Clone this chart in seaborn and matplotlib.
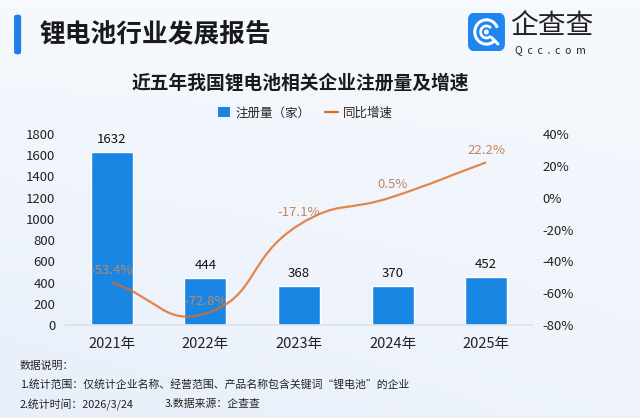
import numpy as np
import matplotlib
matplotlib.use('Agg')
import matplotlib.pyplot as plt
import seaborn as sns
from matplotlib.path import Path
from matplotlib.patches import PathPatch, FancyBboxPatch, Arc, Patch
from matplotlib.lines import Line2D

sns.set_theme(style='white')
plt.rcParams['font.family'] = ['Noto Sans CJK SC', 'DejaVu Sans']

# data
years = ['2021年', '2022年', '2023年', '2024年', '2025年']
counts = [1632, 444, 368, 370, 452]
growth = [-53.4, -72.8, -17.1, 0.5, 22.2]
left_ticks = [0, 200, 400, 600, 800, 1000, 1200, 1400, 1600, 1800]
right_ticks = [-80, -60, -40, -20, 0, 20, 40]

BAR = '#1a86e4'
LINE = '#e2691f'
LBL = '#c0875f'

fig = plt.figure(figsize=(6.4, 4.18), dpi=100)

# soft background
bg = fig.add_axes([0, 0, 1, 1], zorder=-10)
gx = np.linspace(0, 1, 200)
gy = np.linspace(0, 1, 130)
GX, GY = np.meshgrid(gx, gy)
c0 = np.array([246, 249, 253]) / 255
c1 = np.array([232, 239, 250]) / 255
w = np.clip(0.55 * GY + 0.45 * (1 - GX) * GY, 0, 1)[..., None]
bg.imshow(c0 * (1 - w) + c1 * w, aspect='auto', extent=[0, 1, 0, 1], origin='upper')
bg.axis('off')

ax = fig.add_axes([0.1016, 0.2225, 0.7312, 0.4569])
ax.patch.set_alpha(0)
df_x = np.arange(len(years))
sns.barplot(x=df_x, y=counts, color=BAR, width=0.45, saturation=1, ax=ax, native_scale=True)
ax.set_xlim(-0.5, 4.5)
ax.set_ylim(0, 1800)
ax.set_yticks(left_ticks)
ax.set_xticks(df_x)
ax.set_xticklabels(years, fontsize=10.5, color='#222222')
ax.tick_params(axis='y', labelsize=9.5, colors='#222222', length=0, pad=7)
ax.tick_params(axis='x', length=0, pad=9)
for s in ['top', 'right', 'left']:
    ax.spines[s].set_visible(False)
ax.spines['bottom'].set_color('#dde3ea')
ax.set_xlabel('')
ax.set_ylabel('')
for i, v in enumerate(counts):
    ax.annotate(str(v), (i, v), xytext=(0, 4), textcoords='offset points',
                ha='center', va='bottom', fontsize=9.5, color='#111111')

ax2 = ax.twinx()
ax2.set_ylim(-80, 40)
ax2.set_yticks(right_ticks)
ax2.set_yticklabels([f'{t}%' for t in right_ticks])
ax2.tick_params(axis='y', labelsize=9.5, colors='#222222', length=0, pad=7)
for s in ax2.spines.values():
    s.set_visible(False)

# echarts style smooth curve (smooth=0.5) through the growth points
sx, sy = 93.5, 190 / 120.0
P = np.array([[x * sx, g * sy] for x, g in zip(df_x, growth)])
n = len(P)
cps_in, cps_out = [None] * n, [None] * n
for i in range(n):
    prev = P[max(i - 1, 0)]
    nxt = P[min(i + 1, n - 1)]
    v = nxt - prev
    d0 = np.hypot(*(P[i] - prev))
    d1 = np.hypot(*(nxt - P[i]))
    r = d1 / (d0 + d1)
    cps_out[i] = P[i] + v * 0.5 * r
    cps_in[i] = P[i] - v * 0.5 * (1 - r)
verts = [P[0]]
codes = [Path.MOVETO]
for i in range(n - 1):
    verts += [cps_out[i], cps_in[i + 1], P[i + 1]]
    codes += [Path.CURVE4] * 3
verts = np.array(verts) / np.array([sx, sy])
ax2.add_patch(PathPatch(Path(verts, codes), fill=False, edgecolor=LINE, lw=1.6, alpha=0.8, zorder=3))
for i, g in enumerate(growth):
    ax2.annotate(f'{g}%', (i, g), xytext=(0, 4), textcoords='offset points',
                 ha='center', va='bottom', fontsize=9.5, color=LBL, zorder=4)

# titles
fig.text(0.469, 0.801, '近五年我国锂电池相关企业注册量及增速', ha='center', va='center',
         fontsize=13.5, fontweight='bold', color='#1a1a1a')
handles = [Patch(facecolor=BAR, edgecolor='none'), Line2D([], [], color=LINE, lw=1.6)]
fig.legend(handles, ['注册量（家）', '同比增速'], loc='center', bbox_to_anchor=(0.477, 0.73),
           ncol=2, frameon=False, fontsize=9, handlelength=1.0, handleheight=0.9,
           columnspacing=1.2, handletextpad=0.4)

fig.patches.append(FancyBboxPatch((0.022, 0.87), 0.011, 0.095, boxstyle='round,pad=0,rounding_size=0.005',
                                  transform=fig.transFigure, facecolor='#1f7fe8', edgecolor='none'))
fig.text(0.062, 0.918, '锂电池行业发展报告', ha='left', va='center', fontsize=18.5,
         fontweight='bold', color='#1a1a1a')

# logo
lax = fig.add_axes([0.731, 0.877, 0.058, 0.093], zorder=5)
lax.set_xlim(-1, 1)
lax.set_ylim(-1, 1)
lax.axis('off')
lax.add_patch(FancyBboxPatch((-1, -1), 2, 2, boxstyle='round,pad=0,rounding_size=0.4',
                             facecolor='#1f86f0', edgecolor='none'))
lax.add_patch(Arc((0, 0), 1.25, 1.25, theta1=20, theta2=320, color='white', lw=2.2))
lax.add_patch(Arc((0, 0), 0.62, 0.62, theta1=40, theta2=320, color='white', lw=2.0))
lax.add_patch(Arc((0, 0), 0.15, 0.15, theta1=0, theta2=360, color='white', lw=1.5))
lax.plot([0.3, 0.62], [-0.3, -0.62], color='white', lw=2.2)
fig.text(0.797, 0.938, '企查查', ha='left', va='center', fontsize=20, color='#222222')
fig.text(0.804, 0.881, 'Q  c  c  .  c  o  m', ha='left', va='center', fontsize=7.5, color='#222222')

# notes
fig.text(0.031, 0.124, '数据说明：', fontsize=7.8, color='#222222', va='center')
fig.text(0.031, 0.08, '1.统计范围：仅统计企业名称、经营范围、产品名称包含关键词“锂电池”的企业',
         fontsize=7.8, color='#222222', va='center')
fig.text(0.031, 0.034, '2.统计时间：2026/3/24', fontsize=7.8, color='#222222', va='center')
fig.text(0.257, 0.034, '3.数据来源：企查查', fontsize=7.8, color='#222222', va='center')

fig.savefig('out.png', dpi=100)
